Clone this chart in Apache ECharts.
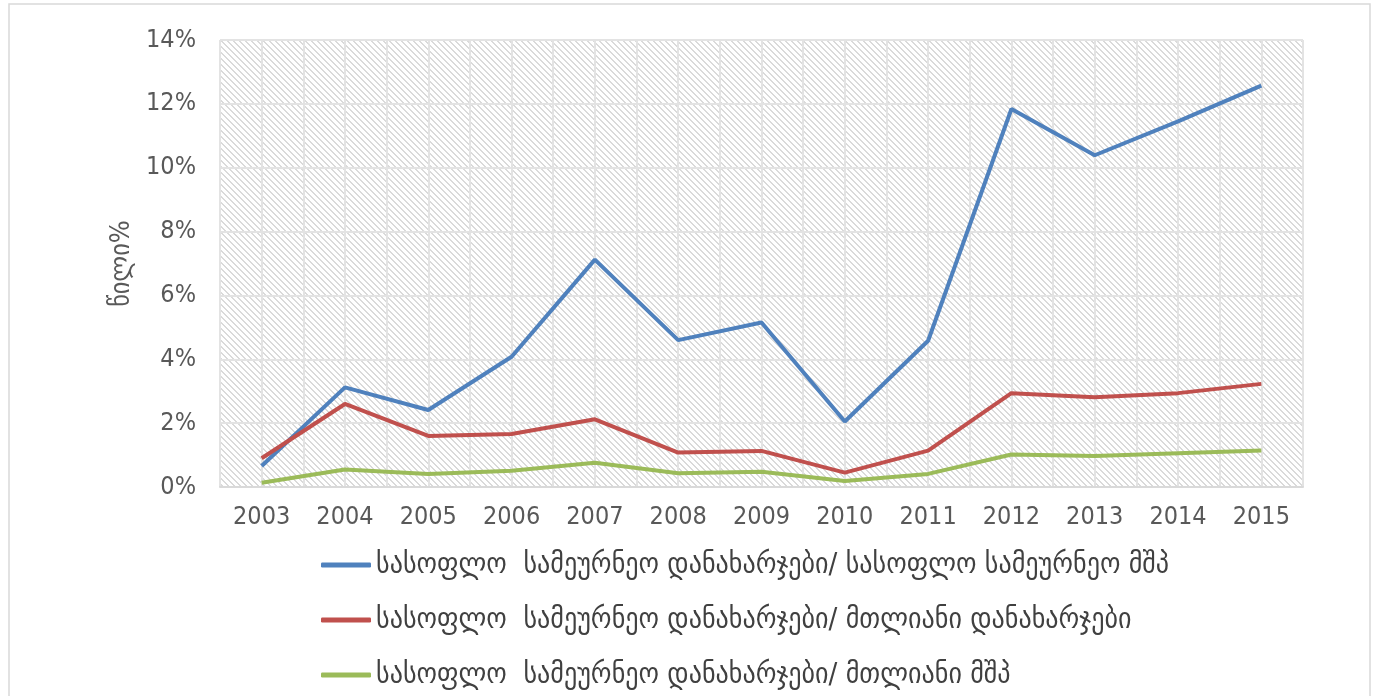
<!DOCTYPE html>
<html>
<head>
<meta charset="utf-8">
<script src="https://cdn.jsdelivr.net/npm/echarts@6/dist/echarts.min.js"></script>
<style>
  html, body { margin: 0; padding: 0; background: #fff; }
  #chart { width: 1377px; height: 696px; }
</style>
</head>
<body>
<div id="chart"></div>
<script>
const years = ['2003', '2004', '2005', '2006', '2007', '2008', '2009', '2010', '2011', '2012', '2013', '2014', '2015'];

// სასოფლო სამეურნეო დანახარჯები / სასოფლო სამეურნეო მშპ
const agriToAgriGdp = [0.66, 3.12, 2.41, 4.08, 7.12, 4.6, 5.15, 2.05, 4.58, 11.84, 10.39, 11.45, 12.57];
// სასოფლო სამეურნეო დანახარჯები / მთლიანი დანახარჯები
const agriToTotalSpend = [0.9, 2.6, 1.6, 1.66, 2.12, 1.08, 1.13, 0.45, 1.14, 2.94, 2.81, 2.94, 3.23];
// სასოფლო სამეურნეო დანახარჯები / მთლიანი მშპ
const agriToTotalGdp = [0.13, 0.55, 0.41, 0.51, 0.76, 0.43, 0.48, 0.19, 0.41, 1.02, 0.97, 1.06, 1.14];

const seriesNames = [
  'სასოფლო  სამეურნეო დანახარჯები/ სასოფლო სამეურნეო მშპ',
  'სასოფლო  სამეურნეო დანახარჯები/ მთლიანი დანახარჯები',
  'სასოფლო  სამეურნეო დანახარჯები/ მთლიანი მშპ'
];
const colors = ['#4F81BD', '#C0504D', '#9BBB59'];

const numFont = "'Liberation Sans Narrow', 'DejaVu Sans Condensed', sans-serif";
const geoFont = "'DejaVu Sans Condensed', 'DejaVu Sans', sans-serif";

// diagonal hatch for the plot area
function hatch() {
  const n = 6;
  const c = document.createElement('canvas');
  c.width = n; c.height = n;
  const ctx = c.getContext('2d');
  ctx.fillStyle = '#ffffff';
  ctx.fillRect(0, 0, n, n);
  ctx.fillStyle = '#dadada';
  for (let i = 0; i < n; i++) {
    ctx.fillRect(i, i, 1, 1);
    ctx.fillRect((i + 1) % n, i, 1, 1);
  }
  return c;
}

const chart = echarts.init(document.getElementById('chart'));
const gridLine = { show: true, lineStyle: { color: '#e3e3e3', width: 2 } };

chart.setOption({
  animation: false,
  color: colors,
  graphic: [{
    type: 'rect',
    shape: { x: 9, y: 4, width: 1361, height: 720 },
    style: { fill: null, stroke: '#d9d9d9', lineWidth: 1.5 },
    silent: true
  }],
  grid: {
    left: 220, right: 74, top: 40, bottom: 209,
    show: true,
    borderWidth: 0,
    backgroundColor: { image: hatch(), repeat: 'repeat' }
  },
  legend: {
    orient: 'vertical',
    left: 316,
    top: 545,
    icon: 'roundRect',
    itemWidth: 50,
    itemHeight: 5,
    itemGap: 25,
    textStyle: { fontFamily: geoFont, fontSize: 29, color: '#404040', lineHeight: 30 }
  },
  xAxis: [{
    type: 'category',
    data: years,
    boundaryGap: true,
    axisLine: { lineStyle: { color: '#d9d9d9', width: 2 } },
    axisTick: { show: false },
    splitLine: { show: false },
    axisLabel: { fontFamily: numFont, fontSize: 25, color: '#595959', margin: 18 }
  }, {
    // half-category vertical grid lines
    type: 'value',
    min: 0, max: 26, interval: 1,
    show: true,
    position: 'bottom',
    axisLine: { show: false },
    axisTick: { show: false },
    axisLabel: { show: false },
    splitLine: gridLine
  }],
  yAxis: {
    type: 'value',
    min: 0, max: 14, interval: 2,
    name: 'წილი%',
    nameLocation: 'middle',
    nameGap: 82,
    nameTextStyle: { fontFamily: geoFont, fontSize: 27, color: '#595959' },
    axisLine: { show: false },
    axisTick: { show: false },
    splitLine: gridLine,
    axisLabel: { formatter: '{value}%', fontFamily: numFont, fontSize: 25, color: '#595959', margin: 24 }
  },
  series: [
    { name: seriesNames[0], type: 'line', data: agriToAgriGdp, symbol: 'none', lineStyle: { width: 4 } },
    { name: seriesNames[1], type: 'line', data: agriToTotalSpend, symbol: 'none', lineStyle: { width: 4 } },
    { name: seriesNames[2], type: 'line', data: agriToTotalGdp, symbol: 'none', lineStyle: { width: 4 } }
  ]
});
</script>
</body>
</html>
